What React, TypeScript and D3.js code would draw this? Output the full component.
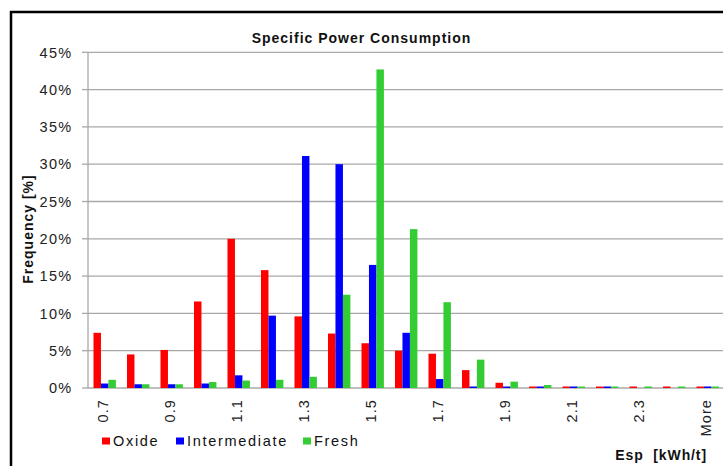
import React from "react";
import * as d3 from "d3";

const categories = ["0.7","0.8","0.9","1.0","1.1","1.2","1.3","1.4","1.5","1.6","1.7","1.8","1.9","2.0","2.1","2.2","2.3","2.4","More"];
const oxide = [7.4,4.5,5.1,11.6,20.0,15.8,9.6,7.3,6.0,5.0,4.6,2.4,0.7,0.2,0.2,0.2,0.2,0.2,0.2];
const intermediate = [0.6,0.5,0.5,0.6,1.7,9.7,31.1,30.0,16.5,7.4,1.2,0.2,0.2,0.2,0.2,0.2,0,0,0.2];
const fresh = [1.1,0.5,0.5,0.8,1.0,1.1,1.5,12.5,42.7,21.3,11.5,3.8,0.85,0.4,0.2,0.2,0.2,0.2,0.2];
const seriesNames = ["Oxide","Intermediate","Fresh"];
const seriesColors = ["#ff0000","#0000ff","#33cc33"];
const yTicks = [0,5,10,15,20,25,30,35,40,45];

const W = 723, H = 466;
const plotLeft = 88, plotRight = 724.5, plotTop = 52.3, plotBottom = 388;

export default function App() {
  const series = [oxide, intermediate, fresh];
  const x = d3.scaleBand<string>().domain(categories).range([plotLeft, plotRight]).paddingInner(0).paddingOuter(0);
  const bw = x.bandwidth();
  const xs = d3.scaleBand<string>().domain(seriesNames).range([5.5, bw - 5.6]).padding(0);
  const y = d3.scaleLinear().domain([0, 45]).range([plotBottom, plotTop]);
  const font = "'Liberation Sans', Arial, sans-serif";
  const legendX = [102, 176, 303];
  return (
    <svg width={W} height={H} style={{ position: "absolute", left: 0, top: 0, background: "#fff" }} fontFamily={font}>
      <rect x={0} y={0} width={W} height={H} fill="#fff" />
      {/* frame */}
      <rect x={11} y={12} width={900} height={700} fill="none" stroke="#000" strokeWidth={2.5} />
      {/* title */}
      <text x={361.5} y={43} textAnchor="middle" fontWeight="bold" fontSize={14} letterSpacing={1} fill="#111">Specific Power Consumption</text>
      {/* gridlines */}
      {yTicks.map((t) => (
        <g key={t}>
          <line x1={plotLeft} x2={W} y1={y(t)} y2={y(t)} stroke="#a8a8a8" strokeWidth={1.3} />
          <line x1={plotLeft - 6} x2={plotLeft} y1={y(t)} y2={y(t)} stroke="#a8a8a8" strokeWidth={1.3} />
          <text x={72.5} y={y(t)} dy="0.36em" textAnchor="end" fontSize={14.5} letterSpacing={1.3} fill="#222">{t}%</text>
        </g>
      ))}
      <line x1={plotLeft} x2={plotLeft} y1={plotTop} y2={plotBottom} stroke="#a8a8a8" strokeWidth={1.3} />
      {/* bars */}
      {series.map((vals, si) => (
        <g key={si} fill={seriesColors[si]}>
          {vals.map((v, i) => v > 0 ? (
            <rect key={i} x={(x(categories[i]) as number) + (xs(seriesNames[si]) as number)} y={y(v)} width={xs.bandwidth()} height={plotBottom - y(v)} />
          ) : null)}
        </g>
      ))}
      {/* x labels */}
      {categories.map((c, i) => i % 2 === 0 ? (
        <text key={c} transform={`translate(${(x(c) as number) + bw / 2 - 2},399) rotate(-90)`} dy="0.36em" textAnchor="end" fontSize={14.5} letterSpacing={1.1} fill="#222">{c}</text>
      ) : null)}
      {/* axis titles */}
      <text transform="translate(28,229) rotate(-90)" dy="0.36em" textAnchor="middle" fontWeight="bold" fontSize={14} letterSpacing={1} fill="#111">Frequency [%]</text>
      <text x={707} y={460} textAnchor="end" fontWeight="bold" fontSize={14} letterSpacing={0.9} fill="#111" style={{ whiteSpace: "pre" }}>{"Esp  [kWh/t]"}</text>
      {/* legend */}
      {seriesNames.map((n, si) => (
        <g key={n}>
          <rect x={legendX[si]} y={437.5} width={8} height={7} fill={seriesColors[si]} />
          <text x={legendX[si] + 11} y={445.5} fontSize={14.5} letterSpacing={1.7} fill="#111">{n}</text>
        </g>
      ))}
    </svg>
  );
}
